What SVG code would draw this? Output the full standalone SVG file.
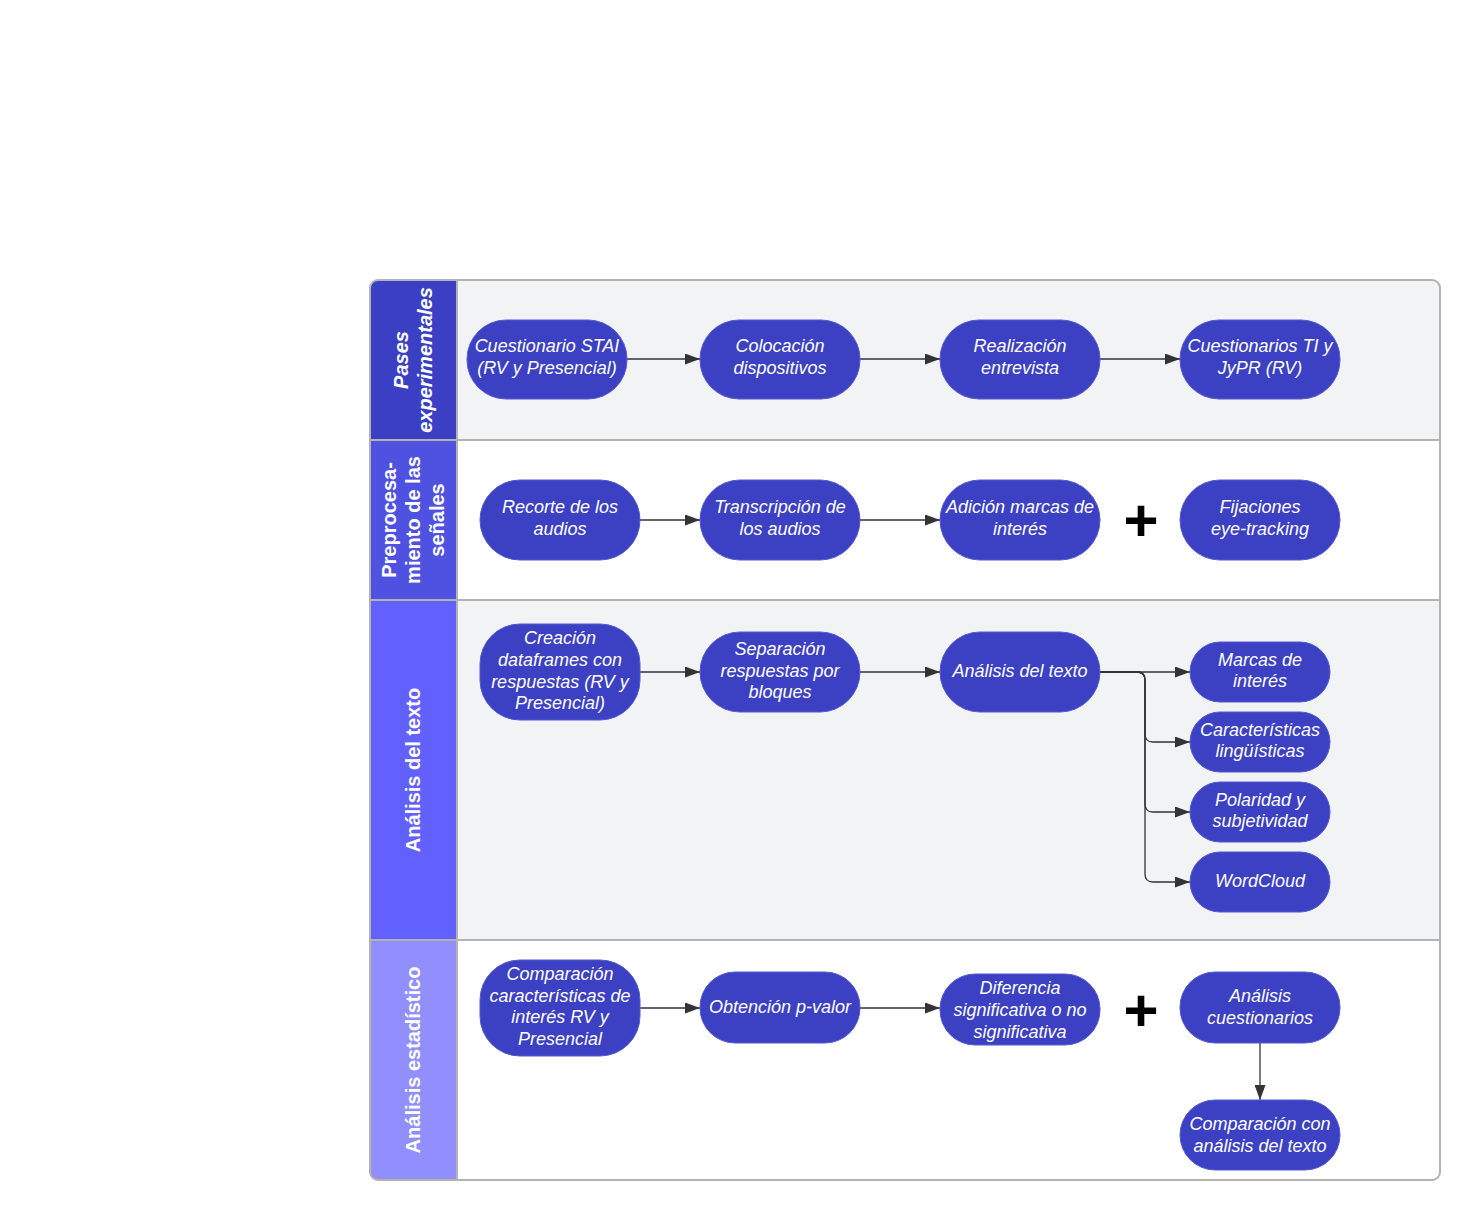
<svg xmlns="http://www.w3.org/2000/svg" width="1480" height="1220" viewBox="0 0 1480 1220">
<style>
.node rect{fill:#3c40c2;stroke:#5559d0;stroke-width:1}
.node text{font-family:"Liberation Sans",Arial,sans-serif;font-size:18px;font-style:italic;fill:#ffffff;text-anchor:middle}
.hdr{font-family:"Liberation Sans",Arial,sans-serif;font-size:20px;font-weight:bold;fill:#ffffff;text-anchor:middle}
.conn path{fill:none;stroke:#333333;stroke-width:1.3}
.plus{font-family:"Liberation Sans",Arial,sans-serif;font-size:60px;font-weight:bold;fill:#000000;text-anchor:middle}
</style>
<defs>
<marker id="arr" markerUnits="userSpaceOnUse" markerWidth="15" markerHeight="11" refX="15" refY="5.5" orient="auto">
<path d="M0,0 L15,5.5 L0,11 z" fill="#333333"/>
</marker>
<clipPath id="outer"><rect x="370" y="280" width="1070" height="900" rx="8"/></clipPath>
</defs>
<rect x="0" y="0" width="1480" height="1220" fill="#ffffff"/>
<g id="lanes" clip-path="url(#outer)">
<rect x="457" y="280" width="983" height="160" fill="#f2f3f5"/>
<rect x="457" y="440" width="983" height="160" fill="#ffffff"/>
<rect x="457" y="600" width="983" height="340" fill="#f2f3f5"/>
<rect x="457" y="940" width="983" height="240" fill="#ffffff"/>
<rect x="370" y="280" width="87" height="160" fill="#3b3fc3"/>
<rect x="370" y="440" width="87" height="160" fill="#4f51e0"/>
<rect x="370" y="600" width="87" height="340" fill="#6260fe"/>
<rect x="370" y="940" width="87" height="240" fill="#918ffd"/>
</g>
<g id="lane-borders" fill="none" stroke="#b3b3b3" stroke-width="2">
<line x1="370" y1="440" x2="1440" y2="440"/>
<line x1="370" y1="600" x2="1440" y2="600"/>
<line x1="370" y1="940" x2="1440" y2="940"/>
<line x1="457" y1="280" x2="457" y2="1180"/>
<rect x="370" y="280" width="1070" height="900" rx="8"/>
</g>
<g id="lane-headers">
<g id="hdr-pases" transform="translate(413,360) rotate(-90)">
<text class="hdr" font-style="italic" x="0" y="-5">Pases</text>
<text class="hdr" font-style="italic" x="0" y="19">experimentales</text>
</g>
<g id="hdr-prepro" transform="translate(413,520) rotate(-90)">
<text class="hdr" x="0" y="-17">Preprocesa-</text>
<text class="hdr" x="0" y="7">miento de las</text>
<text class="hdr" x="0" y="31">señales</text>
</g>
<g id="hdr-texto" transform="translate(413,770) rotate(-90)">
<text class="hdr" x="0" y="7">Análisis del texto</text>
</g>
<g id="hdr-estad" transform="translate(413,1060) rotate(-90)">
<text class="hdr" x="0" y="7">Análisis estadístico</text>
</g>
</g>
<g id="connectors" class="conn">
<path d="M627,359 H700" marker-end="url(#arr)"/>
<path d="M860,359 H940" marker-end="url(#arr)"/>
<path d="M1100,359 H1180" marker-end="url(#arr)"/>
<path d="M640,520 H700" marker-end="url(#arr)"/>
<path d="M860,520 H940" marker-end="url(#arr)"/>
<path d="M640,672 H700" marker-end="url(#arr)"/>
<path d="M860,672 H940" marker-end="url(#arr)"/>
<path d="M1100,672 H1190" marker-end="url(#arr)"/>
<path d="M1100,672 H1137 Q1145,672 1145,680 V734 Q1145,742 1153,742 H1190" marker-end="url(#arr)"/>
<path d="M1100,672 H1137 Q1145,672 1145,680 V804 Q1145,812 1153,812 H1190" marker-end="url(#arr)"/>
<path d="M1100,672 H1137 Q1145,672 1145,680 V874 Q1145,882 1153,882 H1190" marker-end="url(#arr)"/>
<path d="M640,1008 H700" marker-end="url(#arr)"/>
<path d="M860,1008 H940" marker-end="url(#arr)"/>
<path d="M1260,1043 V1100" marker-end="url(#arr)"/>
</g>
<g id="plus-signs">
<text class="plus" x="1141" y="541">+</text>
<text class="plus" x="1141" y="1031">+</text>
</g>
<g id="n-stai" class="node"><rect x="467" y="320" width="160" height="79" rx="39"/><text x="547" y="352">Cuestionario STAI</text><text x="547" y="374">(RV y Presencial)</text></g>
<g id="n-colocacion" class="node"><rect x="700" y="320" width="160" height="79" rx="39"/><text x="780" y="352">Colocación</text><text x="780" y="374">dispositivos</text></g>
<g id="n-entrevista" class="node"><rect x="940" y="320" width="160" height="79" rx="39"/><text x="1020" y="352">Realización</text><text x="1020" y="374">entrevista</text></g>
<g id="n-cuestionarios-ti" class="node"><rect x="1180" y="320" width="160" height="79" rx="39"/><text x="1260" y="352">Cuestionarios TI y</text><text x="1260" y="374">JyPR (RV)</text></g>

<g id="n-recorte" class="node"><rect x="480" y="480" width="160" height="80" rx="40"/><text x="560" y="513">Recorte de los</text><text x="560" y="535">audios</text></g>
<g id="n-transcripcion" class="node"><rect x="700" y="480" width="160" height="80" rx="40"/><text x="780" y="513">Transcripción de</text><text x="780" y="535">los audios</text></g>
<g id="n-adicion" class="node"><rect x="940" y="480" width="160" height="80" rx="40"/><text x="1020" y="513">Adición marcas de</text><text x="1020" y="535">interés</text></g>
<g id="n-fijaciones" class="node"><rect x="1180" y="480" width="160" height="80" rx="40"/><text x="1260" y="513">Fijaciones</text><text x="1260" y="535">eye-tracking</text></g>

<g id="n-creacion" class="node"><rect x="480" y="624" width="160" height="96" rx="40"/><text x="560" y="644">Creación</text><text x="560" y="666">dataframes con</text><text x="560" y="688">respuestas (RV y</text><text x="560" y="709">Presencial)</text></g>
<g id="n-separacion" class="node"><rect x="700" y="632" width="160" height="80" rx="40"/><text x="780" y="655">Separación</text><text x="780" y="677">respuestas por</text><text x="780" y="698">bloques</text></g>
<g id="n-analisis-texto" class="node"><rect x="940" y="632" width="160" height="80" rx="40"/><text x="1020" y="677">Análisis del texto</text></g>
<g id="n-marcas" class="node"><rect x="1190" y="642" width="140" height="60" rx="30"/><text x="1260" y="666">Marcas de</text><text x="1260" y="687">interés</text></g>
<g id="n-caracteristicas" class="node"><rect x="1190" y="712" width="140" height="60" rx="30"/><text x="1260" y="736">Características</text><text x="1260" y="757">lingüísticas</text></g>
<g id="n-polaridad" class="node"><rect x="1190" y="782" width="140" height="60" rx="30"/><text x="1260" y="806">Polaridad y</text><text x="1260" y="827">subjetividad</text></g>
<g id="n-wordcloud" class="node"><rect x="1190" y="852" width="140" height="60" rx="30"/><text x="1260" y="887">WordCloud</text></g>

<g id="n-comparacion" class="node"><rect x="480" y="960" width="160" height="96" rx="40"/><text x="560" y="980">Comparación</text><text x="560" y="1002">características de</text><text x="560" y="1023">interés RV y</text><text x="560" y="1045">Presencial</text></g>
<g id="n-pvalor" class="node"><rect x="700" y="972" width="160" height="71" rx="35"/><text x="780" y="1013">Obtención p-valor</text></g>
<g id="n-diferencia" class="node"><rect x="940" y="974" width="160" height="71" rx="35"/><text x="1020" y="994">Diferencia</text><text x="1020" y="1016">significativa o no</text><text x="1020" y="1038">significativa</text></g>
<g id="n-analisis-cuest" class="node"><rect x="1180" y="972" width="160" height="71" rx="35"/><text x="1260" y="1002">Análisis</text><text x="1260" y="1024">cuestionarios</text></g>
<g id="n-comparacion-texto" class="node"><rect x="1180" y="1100" width="160" height="70" rx="35"/><text x="1260" y="1130">Comparación con</text><text x="1260" y="1152">análisis del texto</text></g>
</svg>
